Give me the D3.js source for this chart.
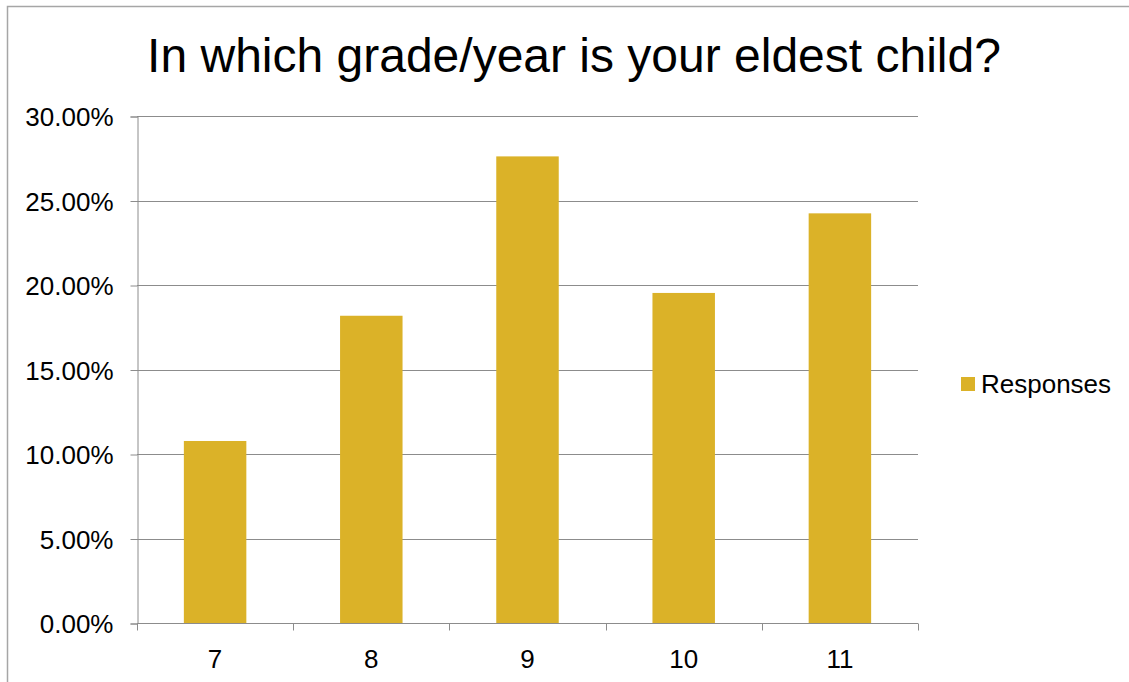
<!DOCTYPE html>
<html>
<head>
<meta charset="utf-8">
<script src="https://cdn.jsdelivr.net/npm/d3@7"></script>
<style>
  html, body { margin: 0; padding: 0; background: #fff; }
  svg { display: block; font-family: "Liberation Sans", Arial, sans-serif; }
</style>
</head>
<body>
<svg id="chart" width="1129" height="682"></svg>
<script>
// Share of responses by grade/year of the eldest child
const categories = ["7", "8", "9", "10", "11"];
const responses = [0.1077, 0.1818, 0.2761, 0.1953, 0.2424];
const yTicks = [0, 0.05, 0.10, 0.15, 0.20, 0.25, 0.30];
const seriesName = "Responses";
const titleText = "In which grade/year is your eldest child?";

const svg = d3.select("#chart");
const W = 1129, H = 682;
const plot = { left: 137, right: 918, top: 116, bottom: 623 };
const barColor = "#DBB228";
const gridColor = "#8c8c8c";
const labelSize = 26;

// chart-area frame
svg.append("rect")
  .attr("x", 7.5).attr("y", 6.5)
  .attr("width", W + 10).attr("height", H + 10)
  .attr("fill", "#fff")
  .attr("stroke", "#a6a6a6").attr("stroke-width", 1.5);

const x = d3.scaleBand()
  .domain(categories)
  .range([plot.left, plot.right])
  .paddingInner(0.6).paddingOuter(0.3);

const y = d3.scaleLinear()
  .domain([0, 0.30])
  .range([plot.bottom, plot.top]);

// horizontal gridlines
svg.append("g")
  .selectAll("line")
  .data(yTicks.filter(d => d > 0))
  .join("line")
  .attr("x1", plot.left).attr("x2", plot.right)
  .attr("y1", d => Math.round(y(d)) + 0.5).attr("y2", d => Math.round(y(d)) + 0.5)
  .attr("stroke", gridColor).attr("stroke-width", 1);

// bars
svg.append("g")
  .selectAll("rect")
  .data(categories.map((c, i) => ({ c, v: responses[i] })))
  .join("rect")
  .attr("x", d => x(d.c))
  .attr("width", x.bandwidth())
  .attr("y", d => y(d.v))
  .attr("height", d => y(0) - y(d.v))
  .attr("fill", barColor);

// y axis
const yAxis = d3.axisLeft(y)
  .tickValues(yTicks)
  .tickFormat(d => (d * 100).toFixed(2) + "%")
  .tickSize(7).tickPadding(17);
const gy = svg.append("g")
  .attr("transform", `translate(${plot.left + 0.5},0.5)`)
  .call(yAxis)
  .attr("font-size", labelSize)
  .attr("font-family", "Liberation Sans, Arial, sans-serif");
gy.selectAll("path.domain").attr("stroke", gridColor);
gy.selectAll(".tick line").attr("stroke", gridColor);
gy.selectAll("text").attr("fill", "#000").attr("dy", "0.36em");

// x axis with boundary ticks between categories
const gx = svg.append("g").attr("transform", `translate(0,${plot.bottom + 0.5})`);
gx.append("line")
  .attr("x1", plot.left).attr("x2", plot.right)
  .attr("stroke", gridColor);
const bounds = d3.range(categories.length + 1).map(i => plot.left + i * (plot.right - plot.left) / categories.length);
gx.selectAll("line.tk")
  .data(bounds)
  .join("line").attr("class", "tk")
  .attr("x1", d => Math.round(d) + 0.5).attr("x2", d => Math.round(d) + 0.5)
  .attr("y1", 0).attr("y2", 7)
  .attr("stroke", gridColor);
gx.selectAll("text")
  .data(categories)
  .join("text")
  .attr("x", d => x(d) + x.bandwidth() / 2)
  .attr("y", 44)
  .attr("text-anchor", "middle")
  .attr("font-size", labelSize)
  .attr("fill", "#000")
  .text(d => d);

// title
svg.append("text")
  .attr("x", 574).attr("y", 72)
  .attr("text-anchor", "middle")
  .attr("font-size", 48)
  .attr("fill", "#000")
  .text(titleText);

// legend
const lg = svg.append("g").attr("transform", "translate(961,377)");
lg.append("rect").attr("width", 14).attr("height", 14).attr("fill", barColor);
lg.append("text").attr("x", 20).attr("y", 16)
  .attr("font-size", labelSize).attr("fill", "#000")
  .text(seriesName);
</script>
</body>
</html>
